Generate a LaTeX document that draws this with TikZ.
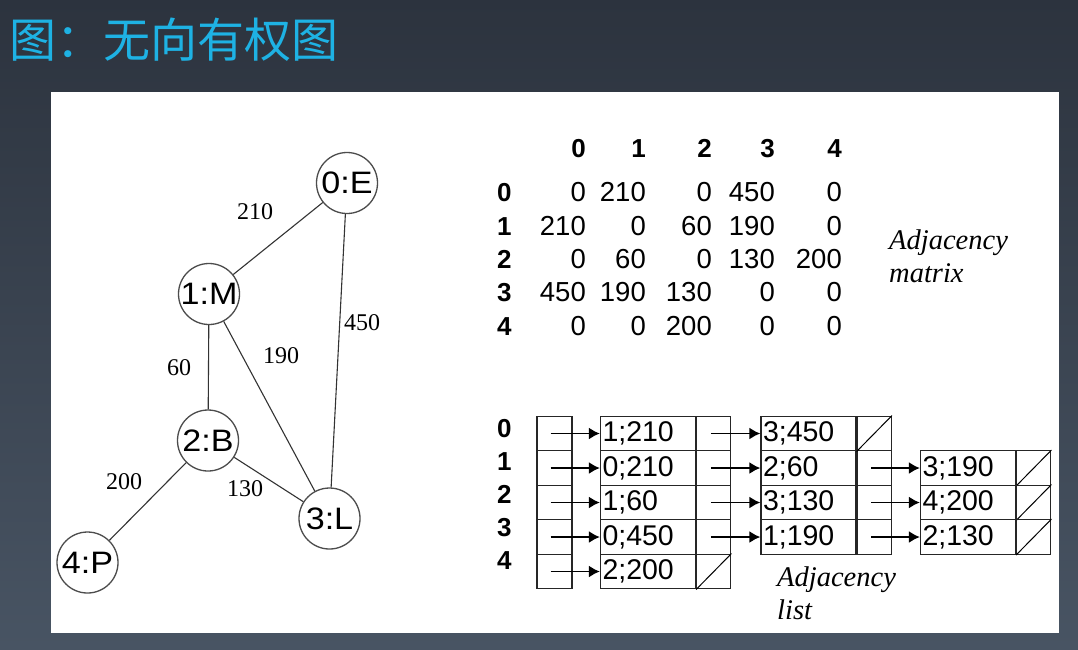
\documentclass[tikz,border=0pt]{standalone}
\usepackage{fontspec}
\setmainfont{Liberation Serif}
\setsansfont{Liberation Sans}
\newfontfamily\cjk{Noto Sans CJK SC}
\newfontfamily\widesans{Liberation Sans}[FakeStretch=1.1]
\usetikzlibrary{positioning,arrows.meta}
\definecolor{bgtop}{RGB}{44,51,62}
\definecolor{bgbottom}{RGB}{72,84,99}
\definecolor{titleblue}{RGB}{30,178,228}
\begin{document}
\begin{tikzpicture}[x=1pt,y=-1pt,
	vertex/.style={draw=black!70, line width=1.3pt, circle, minimum size=61pt, inner sep=0pt, font=\widesans\fontsize{31pt}{32pt}\selectfont},
	weight/.style={inner sep=0pt, font=\fontsize{24pt}{26pt}\selectfont},
	entry/.style={anchor=base east, inner sep=0pt, font=\sffamily\fontsize{27.5pt}{28pt}\selectfont},
	index/.style={anchor=base west, inner sep=0pt, font=\sffamily\bfseries\fontsize{26pt}{28pt}\selectfont},
	cell/.style={draw=black!85, line width=1.3pt, minimum height=34.6pt, inner sep=0pt},
	datacell/.style={cell, text width=91pt, inner xsep=2pt, align=left, font=\sffamily\fontsize{28.5pt}{30pt}\selectfont},
	ptrcell/.style={cell, minimum width=34pt},
	caption/.style={anchor=north west, inner sep=0pt, align=left, font=\itshape\fontsize{28.5pt}{33pt}\selectfont},
	link/.style={-{Latex[length=11pt,width=12pt]}, line width=1.8pt}]
	\useasboundingbox (0,0) rectangle (1078,649);
	\shade[top color=bgtop, bottom color=bgbottom] (0,0) rectangle (1078,649);
	\fill[white] (51,92) rectangle (1059,633);
	\node[anchor=west, inner sep=0pt, text=titleblue, font=\cjk\fontsize{47pt}{50pt}\selectfont] (title) at (9,40) {图：无向有权图};

	% graph
	\node[vertex] (n0) at (347,183) {0:E};
	\node[vertex] (n1) at (209,294) {1:M};
	\node[vertex] (n2) at (208,440.5) {2:B};
	\node[vertex] (n3) at (329.5,518.5) {3:L};
	\node[vertex] (n4) at (87.5,562.5) {4:P};
	\draw[line width=1.1pt, black!80] (n0) -- (n1) (n0) -- (n3) (n1) -- (n2) (n1) -- (n3) (n2) -- (n3) (n2) -- (n4);
	\node[weight] (w01) at (255,212) {210};
	\node[weight] (w03) at (362,323) {450};
	\node[weight] (w13) at (281,356) {190};
	\node[weight] (w12) at (179,368) {60};
	\node[weight] (w24) at (124,482) {200};
	\node[weight] (w23) at (245,489) {130};

	% adjacency matrix (symmetric, so column c = row c)
	\foreach \c/\x/\va/\vb/\vc/\vd/\ve in {0/586/0/210/0/450/0, 1/646/210/0/60/190/0, 2/712/0/60/0/130/200, 3/775/450/190/130/0/0, 4/842/0/0/200/0/0} {
		\node[index, anchor=base east] (mc\c) at (\x,157) {\c};
		\node[entry] (m0\c) at (\x,201.7) {\va};
		\node[entry] (m1\c) at (\x,235) {\vb};
		\node[entry] (m2\c) at (\x,268.3) {\vc};
		\node[entry] (m3\c) at (\x,301.7) {\vd};
		\node[entry] (m4\c) at (\x,335) {\ve};
	}
	\foreach \r/\y in {0/201.7,1/235,2/268.3,3/301.7,4/335}
		\node[index] (mr\r) at (497,\y) {\r};
	\node[caption] (mcap) at (889,230) {Adjacency\\matrix};

	% adjacency list
	\foreach \r/\y in {0/437,1/470,2/503,3/536,4/569}
		\node[index] (lr\r) at (497,\y) {\r};
	\foreach \i/\y/\t in {0/433.5/1;210, 1/468/0;210, 2/502.5/1;60, 3/537/0;450, 4/571.5/2;200} {
		\node[cell, minimum width=35pt] (h\i) at (554.5,\y) {};
		\node[datacell] (a\i) at (648,\y) {\t};
		\node[ptrcell, right=0pt of a\i] (pa\i) {};
		\draw[link] ([xshift=-4pt]h\i.center) -- (a\i.west);
	}
	\foreach \i/\y/\t in {0/433.5/3;450, 1/468/2;60, 2/502.5/3;130, 3/537/1;190} {
		\node[datacell] (b\i) at (808.5,\y) {\t};
		\node[ptrcell, right=0pt of b\i] (pb\i) {};
		\draw[link] ([xshift=-3pt]pa\i.center) -- (b\i.west);
	}
	\foreach \i/\y/\t in {1/468/3;190, 2/502.5/4;200, 3/537/2;130} {
		\node[datacell] (c\i) at (968,\y) {\t};
		\node[ptrcell, right=0pt of c\i] (pc\i) {};
		\draw[link] ([xshift=-3pt]pb\i.center) -- (c\i.west);
		\draw[line width=1pt] (pc\i.south west) -- (pc\i.north east);
	}
	\draw[line width=1pt] (pa4.south west) -- (pa4.north east);
	\draw[line width=1pt] (pb0.south west) -- (pb0.north east);
	\node[caption] (lcap) at (777,567) {Adjacency\\list};
\end{tikzpicture}
\end{document}
